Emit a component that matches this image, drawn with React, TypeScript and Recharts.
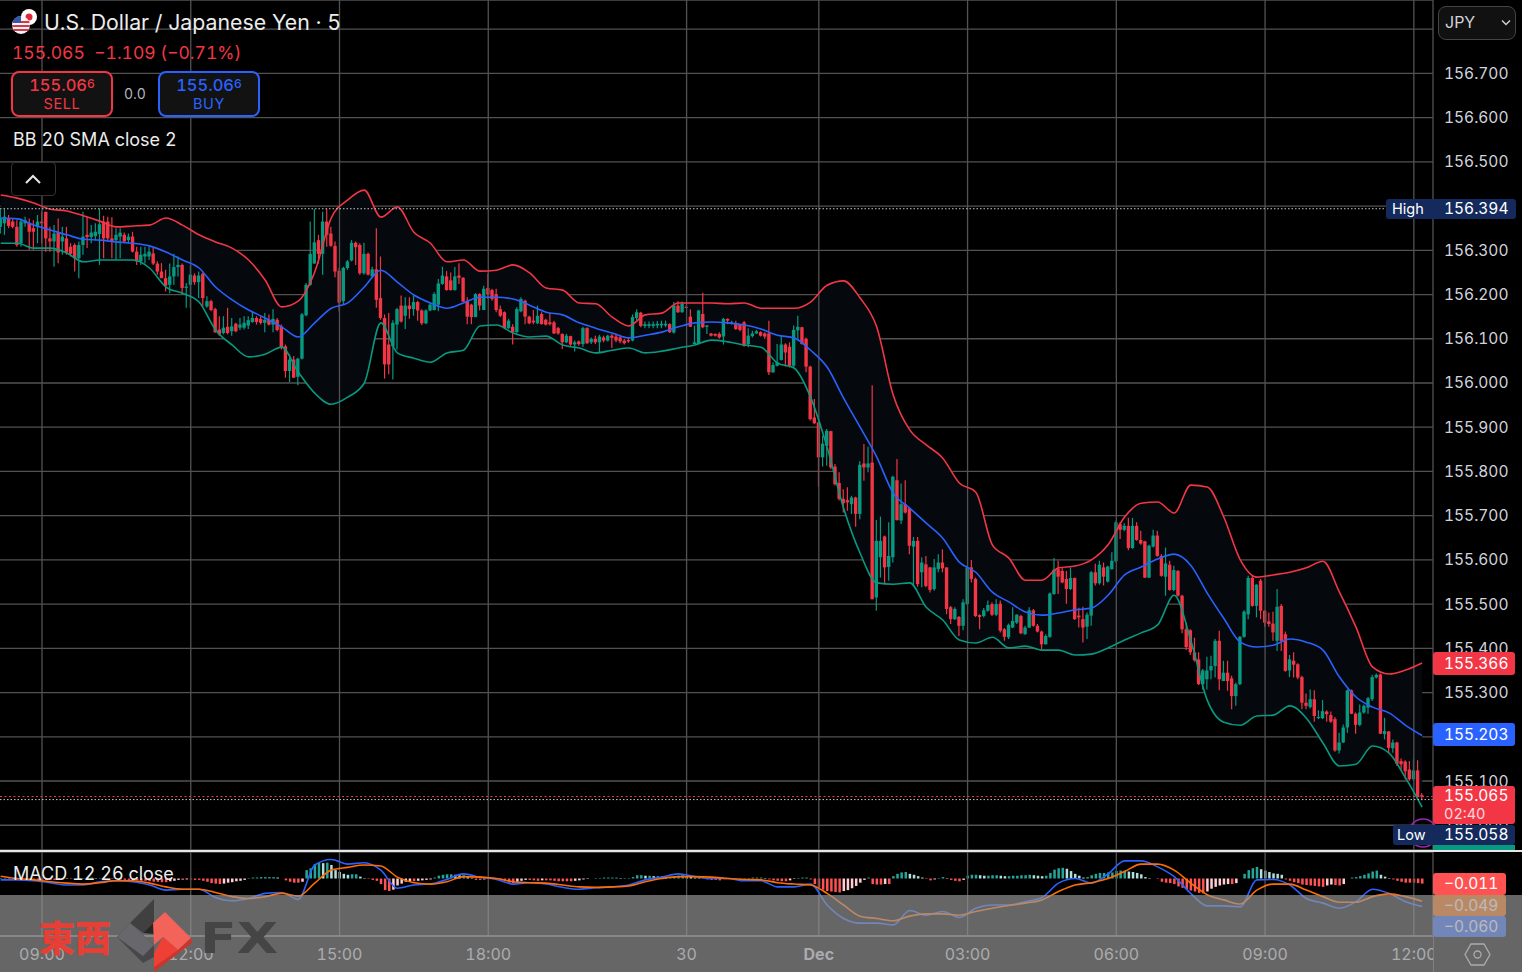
import React from 'react';
import { ComposedChart, Area, Bar, Cell, Line, XAxis, YAxis, CartesianGrid, ReferenceLine } from 'recharts';

// 5 minute USD/JPY candles, one value per bar
const opens = [
  156.353,156.361,156.372,156.365,156.353,156.316,156.361,156.362,156.350,156.353,
  156.365,156.387,156.327,156.320,156.340,156.320,156.327,156.308,156.312,156.282,
  156.312,156.335,156.330,156.332,156.337,156.365,156.365,156.327,156.323,156.331,
  156.335,156.323,156.331,156.297,156.275,156.286,156.286,156.293,156.270,156.252,
  156.237,156.222,156.241,156.262,156.267,156.215,156.222,156.243,156.228,156.247,
  156.173,156.185,156.167,156.121,156.113,156.127,156.117,156.134,156.125,156.125,
  156.130,156.138,156.147,156.145,156.136,156.143,156.132,156.143,156.128,156.083,
  156.027,156.053,156.014,156.055,156.153,156.222,156.270,156.323,156.292,156.365,
  156.338,156.310,156.254,156.185,156.260,156.277,156.317,156.312,156.248,156.292,
  156.241,156.257,156.192,156.147,156.087,156.083,156.132,156.175,156.152,156.175,
  156.167,156.183,156.164,156.135,156.164,156.165,156.177,156.224,156.241,156.232,
  156.210,156.243,156.238,156.186,156.177,156.149,156.201,156.165,156.215,156.210,
  156.201,156.167,156.160,156.124,156.127,156.115,156.162,156.186,156.150,156.141,
  156.135,156.156,156.143,156.137,156.137,156.124,156.111,156.092,156.106,156.087,
  156.094,156.088,156.124,156.092,156.100,156.092,156.103,156.096,156.107,156.105,
  156.103,156.096,156.097,156.096,156.147,156.159,156.129,156.129,156.129,156.130,
  156.130,156.130,156.133,156.114,156.175,156.160,156.172,156.150,156.088,156.088,
  156.156,156.127,156.112,156.111,156.111,156.105,156.145,156.135,156.135,156.132,
  156.137,156.088,156.106,156.112,156.115,156.112,156.112,156.024,156.039,156.052,
  156.087,156.082,156.039,156.119,156.126,156.100,156.037,155.922,155.911,155.832,
  155.858,155.891,155.811,155.774,155.738,155.735,155.726,155.741,155.704,155.818,
  155.809,155.820,155.515,155.606,155.653,155.584,155.606,155.780,155.689,155.726,
  155.717,155.630,155.643,155.572,155.590,155.583,155.534,155.579,155.594,155.583,
  155.493,155.466,155.471,155.451,155.500,155.583,155.557,155.475,155.473,155.485,
  155.500,155.476,155.501,155.443,155.425,155.447,155.458,155.473,155.432,155.447,
  155.486,155.451,155.438,155.409,155.426,155.523,155.579,155.575,155.557,155.534,
  155.559,155.474,155.466,155.449,155.474,155.572,155.547,155.583,155.551,155.579,
  155.597,155.681,155.668,155.677,155.627,155.677,155.645,155.642,155.560,155.630,
  155.655,155.609,155.562,155.589,155.532,155.575,155.519,155.443,155.441,155.391,
  155.375,155.319,155.330,155.350,155.360,155.417,155.326,155.345,155.332,155.292,
  155.319,155.426,155.477,155.559,155.496,155.553,155.485,155.461,155.456,155.417,
  155.496,155.432,155.350,155.372,155.364,155.335,155.277,155.267,155.285,155.242,
  155.242,155.257,155.249,155.240,155.169,155.187,155.221,155.305,155.252,155.227,
  155.255,155.266,155.285,155.334,155.341,155.206,155.212,155.174,155.187,155.145,
  155.144,155.126,155.104,155.124,155.068,
];
const highs = [
  156.393,156.393,156.380,156.372,156.368,156.372,156.376,156.372,156.368,156.380,
  156.387,156.387,156.353,156.357,156.372,156.353,156.353,156.316,156.316,156.320,
  156.387,156.376,156.357,156.361,156.394,156.378,156.376,156.375,156.350,156.350,
  156.340,156.338,156.342,156.308,156.308,156.308,156.308,156.305,156.275,156.271,
  156.256,156.270,156.292,156.286,156.270,156.226,156.267,156.248,156.252,156.250,
  156.196,156.188,156.170,156.151,156.151,156.170,156.147,156.136,156.147,156.151,
  156.151,156.162,156.151,156.151,156.158,156.155,156.167,156.147,156.132,156.087,
  156.065,156.061,156.057,156.158,156.226,156.365,156.394,156.335,156.387,156.394,
  156.353,156.320,156.260,156.263,156.278,156.323,156.320,156.316,156.317,156.295,
  156.263,156.350,156.286,156.155,156.158,156.142,156.170,156.198,156.194,156.194,
  156.198,156.186,156.167,156.167,156.180,156.205,156.235,156.263,156.253,156.250,
  156.262,156.271,156.239,156.194,156.179,156.203,156.203,156.220,156.247,156.213,
  156.213,156.175,156.162,156.145,156.133,156.171,156.194,156.188,156.152,156.165,
  156.175,156.160,156.145,156.158,156.141,156.127,156.112,156.111,156.107,156.096,
  156.096,156.127,156.126,156.103,156.107,156.109,156.107,156.109,156.111,156.112,
  156.109,156.100,156.101,156.155,156.167,156.161,156.139,156.139,156.139,156.140,
  156.141,156.141,156.135,156.183,156.185,156.184,156.176,156.167,156.130,156.165,
  156.204,156.131,156.113,156.112,156.115,156.147,156.146,156.141,156.141,156.133,
  156.140,156.124,156.118,156.120,156.117,156.115,156.141,156.047,156.088,156.105,
  156.090,156.092,156.130,156.152,156.127,156.103,156.039,155.964,155.911,155.881,
  155.896,155.892,155.817,155.798,155.760,155.764,155.745,155.743,155.823,155.862,
  155.856,155.995,155.690,155.698,155.655,155.685,155.790,155.828,155.773,155.780,
  155.719,155.652,155.652,155.606,155.609,155.584,155.602,155.613,155.624,155.583,
  155.496,155.493,155.473,155.511,155.587,155.600,155.560,155.477,155.491,155.508,
  155.504,155.511,155.508,155.446,155.456,155.493,155.477,155.476,155.451,155.493,
  155.489,155.455,155.440,155.432,155.526,155.604,155.598,155.583,155.575,155.583,
  155.560,155.492,155.494,155.481,155.575,155.591,155.598,155.594,155.587,155.617,
  155.689,155.685,155.683,155.695,155.695,155.685,155.666,155.643,155.634,155.668,
  155.666,155.613,155.628,155.598,155.587,155.577,155.521,155.458,155.443,155.424,
  155.391,155.353,155.381,155.383,155.421,155.440,155.372,155.372,155.338,155.323,
  155.428,155.486,155.564,155.564,155.545,155.557,155.486,155.481,155.483,155.534,
  155.500,155.438,155.385,155.391,155.366,155.338,155.298,155.307,155.305,155.260,
  155.283,155.260,155.257,155.245,155.209,155.228,155.307,155.307,155.255,155.273,
  155.273,155.290,155.340,155.343,155.343,155.243,155.213,155.194,155.189,155.151,
  155.147,155.145,155.149,155.147,155.073,
];
const lows = [
  156.338,156.335,156.350,156.350,156.308,156.308,156.353,156.301,156.301,156.316,
  156.316,156.297,156.297,156.263,156.271,156.290,156.290,156.286,156.252,156.237,
  156.290,156.305,156.316,156.323,156.267,156.282,156.323,156.282,156.278,156.282,
  156.316,156.316,156.295,156.267,156.267,156.270,156.278,156.267,156.245,156.237,
  156.207,156.203,156.222,156.241,156.203,156.170,156.170,156.222,156.192,156.173,
  156.170,156.162,156.113,156.107,156.110,156.110,156.107,156.115,156.120,156.121,
  156.122,156.136,156.132,156.132,156.115,156.130,156.115,156.117,156.076,156.012,
  156.002,156.012,155.995,156.053,156.151,156.220,156.270,156.270,156.245,156.308,
  156.308,156.239,156.162,156.177,156.256,156.275,156.267,156.245,156.245,156.243,
  156.237,156.170,156.143,156.010,156.020,156.008,156.076,156.137,156.122,156.145,
  156.152,156.141,156.131,156.133,156.162,156.164,156.162,156.222,156.209,156.209,
  156.209,156.224,156.183,156.133,156.133,156.149,156.164,156.165,156.190,156.186,
  156.160,156.149,156.122,156.122,156.087,156.112,156.160,156.133,156.133,156.133,
  156.133,156.132,156.130,156.130,156.111,156.109,156.077,156.090,156.084,156.071,
  156.084,156.082,156.088,156.088,156.088,156.069,156.092,156.094,156.079,156.092,
  156.090,156.087,156.091,156.094,156.141,156.126,156.124,156.124,156.124,156.124,
  156.124,156.126,156.113,156.112,156.158,156.159,156.170,156.127,156.088,156.088,
  156.124,156.111,156.105,156.105,156.100,156.087,156.133,156.132,156.120,156.117,
  156.082,156.081,156.103,156.111,156.105,156.100,156.018,156.023,156.037,156.051,
  156.037,156.035,156.035,156.096,156.087,156.024,155.915,155.907,155.765,155.811,
  155.813,155.805,155.768,155.734,155.707,155.711,155.704,155.675,155.692,155.779,
  155.798,155.511,155.485,155.560,155.545,155.553,155.594,155.689,155.681,155.705,
  155.613,155.541,155.539,155.538,155.538,155.526,155.530,155.572,155.572,155.477,
  155.455,155.464,155.428,155.441,155.498,155.549,155.471,155.443,155.470,155.483,
  155.473,155.473,155.436,155.417,155.421,155.446,155.455,155.432,155.431,155.446,
  155.449,155.436,155.398,155.409,155.424,155.521,155.523,155.547,155.501,155.532,
  155.464,155.447,155.413,155.421,155.451,155.542,155.544,155.542,155.549,155.578,
  155.594,155.647,155.665,155.622,155.625,155.643,155.634,155.559,155.559,155.628,
  155.607,155.562,155.519,155.530,155.529,155.517,155.434,155.396,155.385,155.370,
  155.317,155.307,155.307,155.330,155.334,155.305,155.326,155.304,155.262,155.270,
  155.317,155.424,155.466,155.494,155.470,155.466,155.449,155.449,155.417,155.394,
  155.394,155.347,155.335,155.334,155.330,155.262,155.262,155.264,155.234,155.240,
  155.240,155.234,155.232,155.166,155.162,155.186,155.209,155.251,155.207,155.224,
  155.252,155.252,155.281,155.332,155.206,155.194,155.164,155.164,155.134,155.126,
  155.104,155.100,155.100,155.062,155.058,
];
const closes = [
  156.372,156.376,156.355,156.353,156.312,156.365,156.368,156.342,156.342,156.365,
  156.361,156.327,156.320,156.338,156.295,156.331,156.295,156.292,156.282,156.312,
  156.331,156.330,156.340,156.342,156.359,156.327,156.327,156.320,156.335,156.340,
  156.320,156.331,156.297,156.275,156.290,156.292,156.297,156.270,156.252,156.237,
  156.220,156.241,156.262,156.267,156.215,156.218,156.245,156.228,156.243,156.192,
  156.185,156.165,156.115,156.110,156.125,156.113,156.128,156.117,156.132,156.136,
  156.142,156.147,156.138,156.136,156.143,156.132,156.145,156.120,156.080,156.027,
  156.053,156.012,156.055,156.155,156.222,156.292,156.318,156.292,156.365,156.335,
  156.310,156.252,156.182,156.260,156.275,156.317,156.307,156.248,156.292,156.245,
  156.257,156.188,156.147,156.042,156.042,156.136,156.167,156.139,156.175,156.167,
  156.183,156.164,156.135,156.164,156.177,156.201,156.225,156.243,156.210,156.210,
  156.241,156.238,156.184,156.150,156.149,156.201,156.175,156.213,156.200,156.190,
  156.165,156.152,156.124,156.141,156.115,156.167,156.190,156.150,156.135,156.137,
  156.152,156.133,156.132,156.133,156.112,156.112,156.092,156.107,156.087,156.092,
  156.088,156.124,156.090,156.100,156.092,156.105,156.096,156.107,156.102,156.096,
  156.094,156.090,156.094,156.149,156.160,156.129,156.133,156.133,156.133,156.134,
  156.134,156.134,156.115,156.175,156.160,156.179,156.171,156.127,156.092,156.164,
  156.126,156.130,156.107,156.107,156.103,156.145,156.141,156.137,156.122,156.120,
  156.084,156.107,156.112,156.117,156.107,156.105,156.024,156.041,156.047,156.087,
  156.069,156.039,156.120,156.127,156.088,156.037,155.918,155.909,155.832,155.863,
  155.892,155.809,155.771,155.738,155.728,155.730,155.741,155.704,155.815,155.809,
  155.818,155.511,155.643,155.643,155.583,155.609,155.788,155.690,155.726,155.707,
  155.632,155.643,155.545,155.594,155.541,155.532,155.583,155.594,155.581,155.489,
  155.466,155.489,155.451,155.504,155.583,155.557,155.473,155.471,155.486,155.498,
  155.476,155.500,155.440,155.426,155.453,155.462,155.476,155.434,155.447,155.486,
  155.451,155.438,155.409,155.428,155.524,155.578,155.562,155.549,155.534,155.559,
  155.466,155.470,155.447,155.476,155.572,155.547,155.589,155.562,155.585,155.598,
  155.685,155.668,155.677,155.627,155.677,155.645,155.637,155.560,155.632,155.655,
  155.609,155.564,155.592,155.532,155.577,155.519,155.443,155.403,155.391,155.373,
  155.319,155.350,155.350,155.360,155.417,155.330,155.345,155.326,155.292,155.319,
  155.426,155.483,155.559,155.496,155.544,155.485,155.458,155.455,155.436,155.494,
  155.417,155.349,155.375,155.363,155.334,155.277,155.270,155.285,155.247,155.245,
  155.258,155.251,155.234,155.169,155.187,155.221,155.305,155.252,155.227,155.255,
  155.270,155.287,155.335,155.340,155.207,155.213,155.175,155.187,155.139,155.138,
  155.122,155.104,155.124,155.066,155.065,
];

const BAND_STEP = 4;
const bbUpper = [
  156.425,156.418,156.407,156.393,156.389,156.378,156.366,156.353,156.355,156.357,
  156.373,156.357,156.335,156.319,156.305,156.278,156.233,156.172,156.185,156.251,
  156.373,156.414,156.436,156.375,156.398,156.341,156.316,156.274,156.278,156.253,
  156.255,156.267,156.249,156.215,156.210,156.181,156.179,156.149,156.129,156.154,
  156.158,156.181,156.181,156.181,156.179,156.181,156.169,156.169,156.169,156.183,
  156.221,156.231,156.192,156.127,155.973,155.894,155.860,155.830,155.774,155.753,
  155.634,155.604,155.554,155.554,155.582,155.586,155.600,155.634,155.697,155.728,
  155.731,155.706,155.769,155.765,155.697,155.600,155.561,155.566,155.572,155.582,
  155.597,155.527,155.448,155.358,155.342,155.351,155.367,
];
const bbBasis = [
  156.373,156.371,156.357,156.346,156.335,156.325,156.323,156.319,156.316,156.310,
  156.296,156.278,156.260,156.217,156.188,156.165,156.147,156.127,156.104,156.136,
  156.169,156.181,156.217,156.255,156.228,156.199,156.181,156.169,156.181,156.194,
  156.194,156.190,156.176,156.160,156.154,156.136,156.124,156.113,156.102,156.108,
  156.115,156.127,156.136,156.138,156.136,156.131,156.122,156.108,156.102,156.074,
  156.036,155.966,155.900,155.833,155.751,155.717,155.683,155.649,155.595,155.572,
  155.527,155.505,155.482,155.475,155.480,155.487,155.491,155.520,155.566,155.584,
  155.602,155.613,155.588,155.525,155.468,155.414,155.403,155.407,155.421,155.414,
  155.396,155.335,155.290,155.267,155.254,155.226,155.203,
];
const bbLower = [
  156.316,156.316,156.305,156.305,156.294,156.274,156.278,156.278,156.278,156.260,
  156.217,156.203,156.183,156.120,156.086,156.059,156.065,156.081,156.025,155.977,
  155.952,155.968,156.000,156.136,156.068,156.056,156.047,156.068,156.074,156.129,
  156.131,156.113,156.104,156.106,156.086,156.079,156.068,156.074,156.079,156.068,
  156.072,156.079,156.086,156.097,156.093,156.086,156.081,156.045,156.034,155.968,
  155.855,155.717,155.615,155.548,155.545,155.548,155.493,155.464,155.419,155.412,
  155.425,155.401,155.405,155.396,155.396,155.385,155.387,155.401,155.419,155.435,
  155.453,155.520,155.419,155.283,155.233,155.226,155.247,155.249,155.270,155.242,
  155.186,155.134,155.138,155.179,155.163,155.107,155.041,
];

// MACD lines at the same fourth bars
const macdLine = [
  -.003,-.003,-.005,-.009,-.014,-.014,-.007,-.005,-.007,-.014,
  -.025,-.023,-.023,-.041,-.048,-.043,-.032,-.030,-.045,.029,
  .041,.031,.034,.018,-.021,-.014,-.012,-.002,.010,.003,
  -.002,-.012,-.009,-.012,-.019,-.023,-.020,-.018,-.014,-.003,
  .003,.010,.004,0,0,-.005,-.005,-.018,-.018,-.012,
  -.057,-.086,-.096,-.096,-.100,-.069,-.079,-.071,-.084,-.064,
  -.057,-.057,-.050,-.041,-.010,0,-.010,.010,.038,.038,
  .025,.004,-.032,-.059,-.059,-.061,-.003,-.002,-.014,-.043,
  -.053,-.064,-.050,-.023,-.032,-.050,-.060,
];
const signalLine = [
  .005,0,-.003,-.007,-.010,-.012,-.009,-.005,-.005,-.010,
  -.018,-.023,-.023,-.030,-.039,-.043,-.039,-.032,-.038,-.010,
  .018,.024,.029,.027,.003,-.009,-.012,-.007,.004,.003,
  0,-.007,-.009,-.010,-.014,-.018,-.019,-.018,-.016,-.007,
  0,.004,.004,.003,0,-.002,-.003,-.009,-.012,-.014,
  -.032,-.057,-.081,-.086,-.091,-.081,-.076,-.076,-.079,-.071,
  -.064,-.058,-.053,-.046,-.028,-.014,-.009,0,.015,.031,
  .031,.018,-.010,-.035,-.046,-.055,-.025,-.012,-.012,-.025,
  -.039,-.051,-.051,-.039,-.033,-.039,-.049,
];
// histogram per bar, in thousandths
const macdHistMilli = [
  1,1,-1,-1,-2,-2,-2,-2,-3,-3,-3,-3,-3,-3,-2,-2,-1,-1,0,1,1,2,2,1,1,0,0,-1,-1,-2,-3,
  -3,-4,-4,-5,-5,-6,-7,-7,-8,-8,-6,-5,-3,-3,-2,-2,-3,-3,-5,-7,-10,-11,-12,-11,-9,-8,-6,-5,-3,
  1,2,2,3,3,3,3,2,0,-4,-7,-9,-9,-7,
  18,22,31,34,33,34,29,18,14,10,8,9,9,4,1,-1,-3,-5,-12,-25,-27,-24,-15,-11,-7,-6,-6,-5,-4,-3,-2,
  2,6,8,9,9,8,7,7,3,1,-3,-3,-2,-1,0,1,-1,-5,-9,-10,-7,-5,-3,-3,-4,-5,-4,-4,-4,-5,-6,-6,-6,-6,-5,-4,-2,-1,0,
  1,1,2,2,2,2,1,1,1,3,7,7,6,6,5,5,4,3,3,5,6,7,5,4,2,
  1,-1,-2,-3,-3,-4,-1,0,0,1,1,1,1,2,2,2,1,-2,-4,-5,-6,-6,-4,-1,1,2,2,-2,-12,-20,-24,-27,-28,-29,-30,-27,-25,-21,-16,-9,-3,2,
  -12,-13,-13,-12,-12,5,10,13,14,10,8,5,2,-1,-4,-2,1,3,1,-3,-5,-6,-3,6,8,8,7,6,6,7,7,6,5,5,6,6,7,7,8,7,6,5,6,12,19,22,23,21,16,10,6,2,3,7,10,12,12,13,13,16,17,17,15,14,12,9,3,1,0,
  -1,-7,-9,-10,-12,-17,-20,-23,-26,-28,-31,-32,-28,-22,-18,-15,-13,-12,-12,-10,0,10,18,22,25,20,17,14,11,10,8,
  -2,-5,-8,-10,-13,-14,-15,-16,-17,-18,-15,-13,-14,-15,-12,0,2,3,5,8,11,15,17,8,4,1,-2,-5,-7,-9,-9,-9,-10,-11,
];

// axis ticks
const priceTicks = [155.0,155.1,155.2,155.3,155.4,155.5,155.6,155.7,155.8,155.9,156.0,156.1,156.2,156.3,156.4,156.5,156.6,156.7,156.8];
const timeTicks = [10,46,82,118,166,198,234,270,306,342];
const timeLabels = ['09:00','12:00','15:00','18:00','30','Dec','03:00','06:00','09:00','12:00'];
const macdTicks = [-0.1,0];

const HIGH_PRICE = 156.394;
const LOW_PRICE = 155.058;
const LAST_PRICE = 155.065;

const UP = '#089981';
const DOWN = '#F23645';
const GRID = '#525252';
const FONT = 'Inter, "Noto Sans", sans-serif';
const X_DOMAIN = [-0.165, 346.64];

const candleRows = opens.map((open, i) => ({
  i,
  open,
  close: closes[i],
  high: highs[i],
  low: lows[i],
  range: [lows[i], highs[i]],
}));
const bandRows = bbUpper.map((upper, k) => ({
  i: k * BAND_STEP,
  upper,
  basis: bbBasis[k],
  lower: bbLower[k],
  band: [bbLower[k], upper],
}));
const macdRows = macdLine.map((macd, k) => ({ i: k * BAND_STEP, macd, signal: signalLine[k] }));
const histRows = macdHistMilli.map((v, i) => ({ i, hist: v / 1000 }));

const histColor = (i: number) => {
  const v = macdHistMilli[i];
  const prev = i > 0 ? macdHistMilli[i - 1] : 0;
  if (v >= 0) return v >= prev ? '#26A69A' : '#B2DFDB';
  return v <= prev ? '#FF5252' : '#FFCDD2';
};

const Candle = (props: any) => {
  const { x, y, width, height, payload } = props;
  const { open, close, high, low } = payload;
  const color = close >= open ? UP : DOWN;
  const h = Math.abs(height);
  const perUnit = h / (high - low || 1);
  const top = y + (high - Math.max(open, close)) * perUnit;
  const bodyH = Math.max(1, Math.abs(open - close) * perUnit);
  const cx = x + width / 2;
  return (
    <g>
      <line x1={cx} x2={cx} y1={y} y2={y + h} stroke={color} strokeWidth={1.2} />
      <rect x={x} y={top} width={width} height={bodyH} fill={color} />
    </g>
  );
};

const TimeTick = (props: any) => {
  const { x, y, payload } = props;
  const label = timeLabels[timeTicks.indexOf(payload.value)];
  return (
    <text x={x} y={y + 16} textAnchor="middle" style={{ fill: '#d1d4dc' }} fontSize={16} fontFamily={FONT} fontWeight={label === 'Dec' ? 700 : 400}>
      {label}
    </text>
  );
};

const Tag = ({ left, top, width, height, bg, color = '#fff', children, radius = 3, fontSize = 15.5 }: any) => (
  <div style={{ position: 'absolute', left, top, width, height, background: bg, color, borderRadius: radius, fontFamily: FONT, fontSize, lineHeight: `${height}px`, paddingLeft: 11, boxSizing: 'border-box' }}>
    {children}
  </div>
);

const TradeBox = ({ left, color, side }: any) => (
  <div style={{ position: 'absolute', left, top: 71, width: 102, height: 46, boxSizing: 'border-box', border: `2px solid ${color}`, borderRadius: 8, background: '#121212', color, fontFamily: FONT, textAlign: 'center' }}>
    <div style={{ fontSize: 16.5, fontWeight: 500, lineHeight: '20px', marginTop: 1 }}>
      155.06<span style={{ fontSize: 12, verticalAlign: 3 }}>6</span>
    </div>
    <div style={{ fontSize: 14.5, lineHeight: '18px', letterSpacing: 0.6 }}>{side}</div>
  </div>
);

const Label = ({ left, top, size, color = '#ececec', children }: any) => (
  <div style={{ position: 'absolute', left, top, fontFamily: FONT, fontSize: size, color, whiteSpace: 'pre', lineHeight: 1 }}>{children}</div>
);

export default function App() {
  return (
    <div style={{ position: 'absolute', left: 0, top: 0, width: 1522, height: 972, background: '#000', overflow: 'hidden', fontVariantNumeric: 'tabular-nums' }}>
      <div style={{ position: 'absolute', left: 0, top: 0 }}>
        <ComposedChart width={1522} height={850} data={candleRows} margin={{ top: 0, right: 0, bottom: 0, left: 0 }}>
          <CartesianGrid vertical={false} stroke={GRID} strokeWidth={1.3} />
          <XAxis dataKey="i" type="number" domain={X_DOMAIN} hide allowDataOverflow />
          <YAxis
            orientation="right"
            width={89}
            domain={[154.944, 156.866]}
            allowDataOverflow
            ticks={priceTicks}
            interval={0}
            tickFormatter={(v: number) => v.toFixed(3)}
            tick={{ fill: '#d1d4dc', fontSize: 15.5, fontFamily: FONT }}
            tickLine={false}
            axisLine={{ stroke: GRID, strokeWidth: 1.3 }}
            tickMargin={5}
          />
          {timeTicks.map((t) => (
            <ReferenceLine key={t} x={t} stroke={GRID} strokeWidth={1.3} />
          ))}
          <Area data={bandRows} dataKey="band" type="monotone" stroke="none" fill="#05080d" fillOpacity={1} activeDot={false} isAnimationActive={false} />
          <Line data={bandRows} dataKey="upper" type="monotone" stroke={DOWN} strokeWidth={1.6} dot={false} activeDot={false} isAnimationActive={false} />
          <Line data={bandRows} dataKey="basis" type="monotone" stroke="#2962FF" strokeWidth={1.6} dot={false} activeDot={false} isAnimationActive={false} />
          <Line data={bandRows} dataKey="lower" type="monotone" stroke={UP} strokeWidth={1.6} dot={false} activeDot={false} isAnimationActive={false} />
          <Bar dataKey="range" barSize={3.4} shape={Candle} isAnimationActive={false} />
          <ReferenceLine y={HIGH_PRICE} stroke="#c8c8c8" strokeDasharray="1.5 2" strokeWidth={1} />
          <ReferenceLine y={LOW_PRICE} stroke="#c8c8c8" strokeDasharray="1.5 2" strokeWidth={1} />
          <ReferenceLine y={LAST_PRICE} stroke={DOWN} strokeDasharray="2 2.5" strokeWidth={1.2} />
        </ComposedChart>
      </div>

      <div style={{ position: 'absolute', left: 0, top: 850, width: 1522, height: 2, background: '#e6e6e6' }} />

      <div style={{ position: 'absolute', left: 0, top: 852 }}>
        <ComposedChart width={1522} height={120} data={histRows} margin={{ top: 0, right: 0, bottom: 0, left: 0 }}>
          <CartesianGrid vertical={false} stroke={GRID} strokeWidth={1.3} />
          <XAxis
            dataKey="i"
            type="number"
            domain={X_DOMAIN}
            allowDataOverflow
            ticks={timeTicks}
            interval={0}
            height={36}
            tick={TimeTick}
            tickLine={false}
            axisLine={{ stroke: '#757575', strokeWidth: 1.5 }}
          />
          <YAxis orientation="right" width={89} domain={[-0.1237, 0.057]} allowDataOverflow ticks={macdTicks} tick={false} tickLine={false} axisLine={{ stroke: GRID, strokeWidth: 1.3 }} />
          {timeTicks.map((t) => (
            <ReferenceLine key={t} x={t} stroke={GRID} strokeWidth={1.3} />
          ))}
          <Bar dataKey="hist" barSize={2.5} isAnimationActive={false}>
            {histRows.map((r) => (
              <Cell key={r.i} fill={histColor(r.i)} />
            ))}
          </Bar>
          <Line data={macdRows} dataKey="macd" type="monotone" stroke="#2962FF" strokeWidth={1.6} dot={false} activeDot={false} isAnimationActive={false} />
          <Line data={macdRows} dataKey="signal" type="monotone" stroke="#FF6D00" strokeWidth={1.6} dot={false} activeDot={false} isAnimationActive={false} />
        </ComposedChart>
      </div>

      {/* right scale, time labels stop at it */}
      <div style={{ position: 'absolute', left: 1433, top: 936, width: 89, height: 36, background: '#000', borderLeft: `1px solid ${GRID}` }} />

      {/* price tags */}
      <Tag left={1433} top={652} width={82} height={23} bg="#F23645">155.366</Tag>
      <Tag left={1433} top={723} width={82} height={23} bg="#2962FF">155.203</Tag>
      <svg style={{ position: 'absolute', left: 1405, top: 815 }} width={40} height={40}>
        <circle cx={18} cy={18} r={14} fill="none" stroke="#9C27B0" strokeWidth={1.5} />
      </svg>
      <div style={{ position: 'absolute', left: 1433, top: 786, width: 82, height: 38, background: DOWN, borderRadius: 3, fontFamily: FONT, color: '#fff', paddingLeft: 11, boxSizing: 'border-box' }}>
        <div style={{ fontSize: 15.5, lineHeight: '20px' }}>155.065</div>
        <div style={{ fontSize: 14.5, lineHeight: '16px', opacity: 0.8 }}>02:40</div>
      </div>
      <div style={{ position: 'absolute', left: 1433, top: 845, width: 82, height: 5, background: UP }} />
      <Tag left={1386} top={199} width={47} height={20} bg="#142a5c" fontSize={14.5} radius="3px 0 0 3px"><span style={{ marginLeft: -5 }}>High</span></Tag>
      <Tag left={1433} top={199} width={83} height={20} bg="#142a5c" radius="0 3px 3px 0">156.394</Tag>
      <Tag left={1393} top={825} width={40} height={20} bg="#142a5c" fontSize={14.5} radius="3px 0 0 3px"><span style={{ marginLeft: -7 }}>Low</span></Tag>
      <Tag left={1433} top={825} width={82} height={20} bg="#142a5c" radius="0 3px 3px 0">155.058</Tag>

      {/* macd tags */}
      <Tag left={1433} top={873} width={73} height={22} bg="#FF5252">−0.011</Tag>
      <Tag left={1433} top={895} width={73} height={21} bg="#FF6D00">−0.049</Tag>
      <Tag left={1433} top={916} width={73} height={21} bg="#2962FF">−0.060</Tag>

      <svg style={{ position: 'absolute', left: 1464, top: 941 }} width={27} height={27}>
        <path d="M7 3 L20 3 L26 13.5 L20 24 L7 24 L1 13.5 Z" fill="none" stroke="#d1d4dc" strokeWidth={1.3} />
        <circle cx={13.5} cy={13.5} r={3.5} fill="none" stroke="#d1d4dc" strokeWidth={1.3} />
      </svg>

      {/* legend */}
      <svg style={{ position: 'absolute', left: 10, top: 8 }} width={32} height={30}>
        <circle cx={19} cy={9} r={8} fill="#fff" />
        <circle cx={19} cy={9} r={3.5} fill="#e0263a" />
        <circle cx={11} cy={17} r={9} fill="#f4f4f4" />
        <path d="M2.6 14 h16.8 M2.2 18 h17.6 M3.5 22 h15" stroke="#d9364a" strokeWidth={2} />
        <path d="M3 13 a9 9 0 0 1 8 -5 v7 h-8 z" fill="#3558a8" />
      </svg>
      <Label left={44} top={12} size={21.3}>U.S. Dollar / Japanese Yen · 5</Label>
      <Label left={12} top={44} size={17.5} color={DOWN}>155.065  −1.109 (−0.71%)</Label>
      <TradeBox left={11} color={DOWN} side="SELL" />
      <Label left={124} top={87} size={14} color="#b2b5be">0.0</Label>
      <TradeBox left={158} color="#2962FF" side="BUY" />
      <Label left={13} top={131} size={18}>BB 20 SMA close 2</Label>
      <div style={{ position: 'absolute', left: 11, top: 162, width: 45, height: 34, boxSizing: 'border-box', border: '1.5px solid #333', borderRadius: 4, background: '#000' }}>
        <svg width={42} height={31}>
          <path d="M14 20 L21 13 L28 20" fill="none" stroke="#e6e6e6" strokeWidth={2} />
        </svg>
      </div>
      <div style={{ position: 'absolute', left: 1438, top: 6, width: 78, height: 34, boxSizing: 'border-box', border: '1.5px solid #444', borderRadius: 8, background: '#111', color: '#d1d4dc', fontFamily: FONT, fontSize: 16, lineHeight: '31px', paddingLeft: 6 }}>
        JPY
        <svg style={{ position: 'absolute', left: 62, top: 12 }} width={10} height={8}>
          <path d="M1 1.5 L5 5.5 L9 1.5" fill="none" stroke="#d1d4dc" strokeWidth={1.4} />
        </svg>
      </div>
      <Label left={13} top={865} size={18}>MACD 12 26 close</Label>

      {/* watermark band */}
      <div style={{ position: 'absolute', left: 0, top: 895, width: 1522, height: 77, background: 'rgba(151,151,151,0.675)' }} />
      <svg style={{ position: 'absolute', left: 0, top: 895 }} width={300} height={77}>
        <polygon points="154,4 154,27 143,38 130,28" fill="#404040" />
        <polygon points="143,38 154,27 154,39" fill="#262626" />
        <polygon points="117,42 130,28 154,50 154,62 143,68" fill="#47474a" />
        <polygon points="117,42 130,28 154,50 143,61" fill="#68686c" />
        <polygon points="153,28 165,17 191,43 178,55 163,42 154,50" fill="#f3635a" />
        <polygon points="154,58 163,42 178,55 154,77" fill="#ee4035" />
        <polygon points="178,55 191,43 192,48 154,77 154,72" fill="#c9362e" />
        <text x={200} y={58} fontFamily='"DejaVu Sans", sans-serif' fontWeight={700} fontSize={43} fill="#454545" textLength={78} lengthAdjust="spacingAndGlyphs">FX</text>
        <text x={39} y={57} fontFamily='"Noto Sans CJK JP", sans-serif' fontWeight={900} fontSize={36} fill="#e53f36">東西</text>
      </svg>
    </div>
  );
}
